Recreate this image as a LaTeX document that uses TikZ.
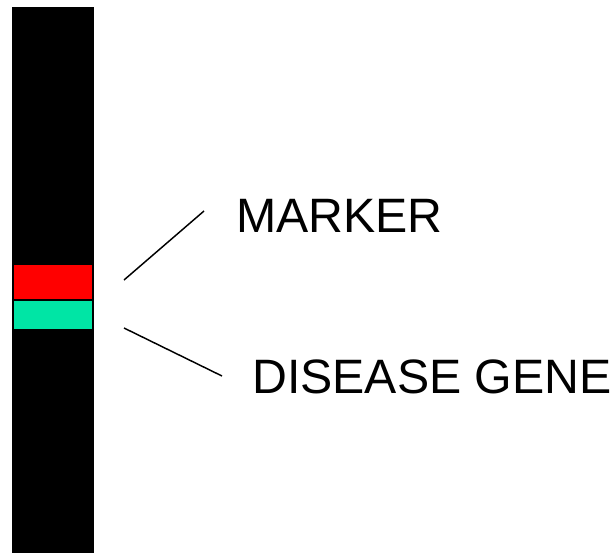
\documentclass[tikz,border=0pt]{standalone}
\usepackage{fontspec}
\setmainfont{Liberation Sans}
\definecolor{bandered}{RGB}{255,0,0}
\definecolor{bandeverte}{RGB}{0,229,165}
\begin{document}
\begin{tikzpicture}[x=0.75pt,y=-0.75pt,
    etiquette/.style={anchor=base west,inner sep=0pt,font=\fontsize{36.2pt}{40pt}\selectfont},
    rappel/.style={line width=1.1pt}]
\useasboundingbox (0,0) rectangle (614,553);

% Chromosome
\fill[black] (12,7) rectangle (94,553);

% Bandes
\fill[bandered] (14,265) rectangle (92,299);
\fill[bandeverte] (14,301) rectangle (92,329);

% Etiquettes
\node[etiquette] (marqueur) at (236,232) {MARKER};
\node[etiquette] (gene) at (252,393) {DISEASE GENE};

% Traits de rappel
\coordinate (m1) at (124,280);
\coordinate (m2) at (204,211);
\coordinate (g1) at (124,328);
\coordinate (g2) at (222,376);
\draw[rappel] (m1) -- (m2);
\draw[rappel] (g1) -- (g2);

\end{tikzpicture}
\end{document}
